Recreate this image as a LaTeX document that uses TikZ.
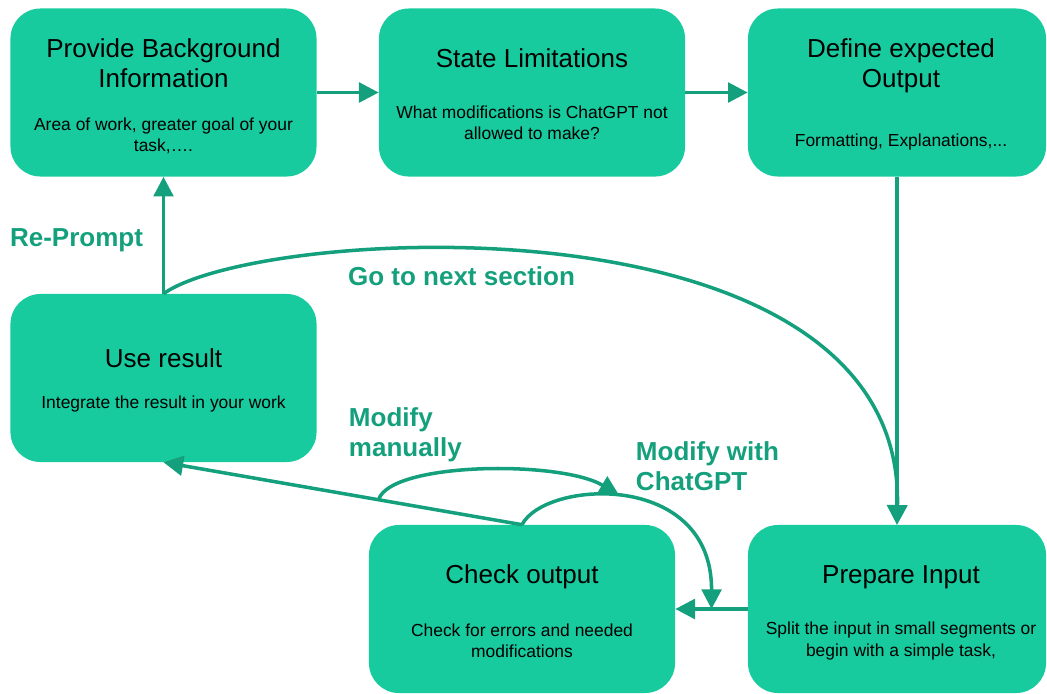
\documentclass[tikz,border=0pt]{standalone}
\usepackage{fontspec}
\setmainfont{Liberation Sans}
\usetikzlibrary{arrows.meta,calc}
\definecolor{stagefill}{RGB}{23,203,158}
\definecolor{flowline}{RGB}{20,160,124}

\begin{document}
\begin{tikzpicture}[x=0.025cm,y=-0.025cm,
    stage/.style = {rectangle, rounded corners=0.75cm, fill=stagefill,
        minimum width=7.65cm, minimum height=4.2cm},
    head/.style = {align=center, font=\fontsize{18.5}{21.3}\selectfont},
    info/.style = {align=center, font=\fontsize{12.4}{15}\selectfont},
    flow/.style = {line width=2.5pt, draw=flowline,
        -{Triangle[length=14pt,width=14pt]}},
    tag/.style = {text=flowline, font=\bfseries\fontsize{18.5}{21.3}\selectfont}]

\useasboundingbox (0,0) rectangle (1047,693);

% Provide Background
\node[stage] (A) at (163.5,92.5) {};
\node[head] (A-head) at (163.5,63) {Provide Background\\Information};
\node[info] (A-info) at (163.5,135.5) {Area of work, greater goal of your\\task,….};

% State Limitations
\node[stage] (B) at (532,92.5) {};
\node[head] (B-head) at (532,58) {State Limitations};
\node[info] (B-info) at (532,123) {What modifications is ChatGPT not\\allowed to make?};

% Define expected Output
\node[stage, minimum width=7.45cm] (C) at (897,92.5) {};
\node[head] (C-head) at (901,66) {Define expected\\Output};
\node[info] (C-info) at (901,142) {Formatting, Explanations,...};

% Use result
\node[stage] (D) at (163.5,378) {};
\node[head] (D-head) at (163.5,358) {Use result};
\node[info] (D-info) at (163.5,404) {Integrate the result in your work};

% Check output
\node[stage] (E) at (522,609) {};
\node[head] (E-head) at (522,577) {Check output};
\node[info] (E-info) at (522,641) {Check for errors and needed\\modifications};

% Prepare Input
\node[stage, minimum width=7.45cm] (F) at (897,609) {};
\node[head] (F-head) at (901,577) {Prepare Input};
\node[info] (F-info) at (901,641) {Split the input in small segments or\\begin with a simple task,};

% Main flow
\draw[flow] (A) -- (B);
\draw[flow] (B) -- (C);
\draw[flow] (C) -- (F);
\draw[flow] (F) -- (E);
\draw[flow] (E.north) -- (D.south);

% Re-Prompt
\draw[flow] (D) -- (A);
\node[tag] (reprompt) at (76.5,240) {Re-Prompt};

% Go to next section
\draw[flow] (D.north) .. controls (260,225) and (905,190) .. (F.north);
\node[tag] (next) at (461.5,276) {Go to next section};

% Modify loops
\coordinate (manual) at ($(E.north)!0.4!(D.south)$);
\coordinate (gpt) at ($(F.west)!0.5!(E.east)$);
\coordinate (meet) at (619,495);
\draw[flow] (E.north) .. controls (545,480) and (712,470) .. (gpt);
\draw[flow] (manual) .. controls (390,462) and (560,460) .. (meet);
\node[tag, align=left, anchor=west] (mman) at (344,435) {Modify\\manually};
\node[tag, align=left, anchor=west] (mgpt) at (631,466) {Modify with\\ChatGPT};

\end{tikzpicture}
\end{document}
